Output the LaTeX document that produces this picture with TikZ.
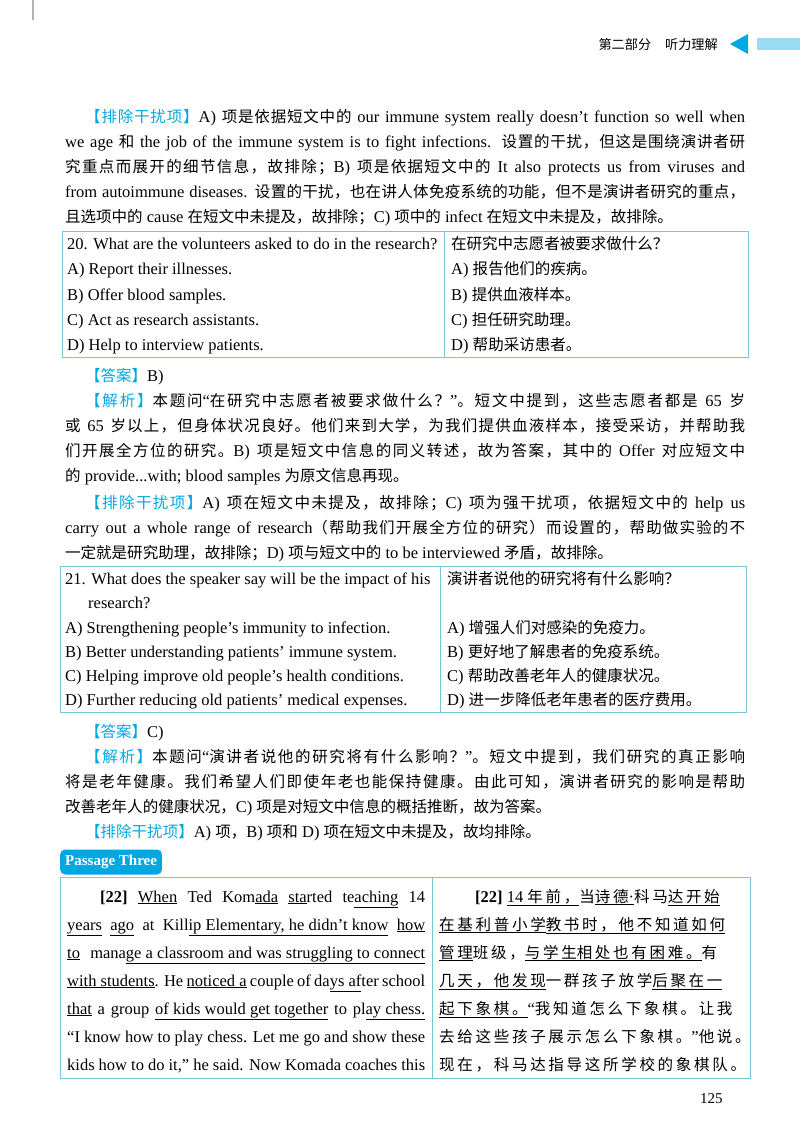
\documentclass[tikz,border=0pt]{standalone}
\usepackage{fontspec}
\setmainfont{Liberation Serif}
\newfontfamily\cjk{Noto Sans CJK SC}[Scale=0.94]
\newfontfamily\latin{Liberation Serif}
\usetikzlibrary{positioning}
% automatic switch to the CJK font
\XeTeXinterchartokenstate=1
\newXeTeXintercharclass\cjkclass
\newcount\cc
\cc="3000 \loop\XeTeXcharclass\cc=\cjkclass \advance\cc by 1 \ifnum\cc<"303F\repeat
\cc="4E00 \loop\XeTeXcharclass\cc=\cjkclass \advance\cc by 1 \ifnum\cc<"9FFF\repeat
\cc="FF00 \loop\XeTeXcharclass\cc=\cjkclass \advance\cc by 1 \ifnum\cc<"FFEF\repeat
\newcommand{\cjksep}{\hskip 0pt plus 1pt}
\XeTeXinterchartoks 0 \cjkclass = {\cjk}
\XeTeXinterchartoks 4095 \cjkclass = {\cjk}
\XeTeXinterchartoks \cjkclass 0 = {\latin}
\XeTeXinterchartoks \cjkclass 4095 = {\latin}
\XeTeXinterchartoks \cjkclass \cjkclass = {\cjksep}
\definecolor{cyanhd}{RGB}{0,168,226}
\definecolor{tabline}{RGB}{120,200,215}
\newcommand{\tag}[1]{{\color{cyanhd}【#1】}}
\newcommand{\jl}[2]{\makebox[#1pt][s]{#2}}
\tikzset{
  line/.style={anchor=base west, inner sep=0pt, font=\fontsize{16.5}{18}\selectfont},
  cell/.style={line},
  wide/.style={line, font=\fontsize{16.5}{18}\selectfont\renewcommand{\cjksep}{\kern2.7pt}},
  grid/.style={draw=tabline, line width=1pt}
}
\begin{document}
\begin{tikzpicture}[x=1pt,y=-1pt]
\useasboundingbox (0,0) rectangle (800,1131);
\fill[white] (0,0) rectangle (800,1131);
\draw[gray!60, line width=2pt] (33,0) -- (33,20);

% header
\node (head) [anchor=base east, inner sep=0pt, font=\fontsize{14}{15}\selectfont] at (718,50) {第二部分\hspace{1em}听力理解};
\fill[cyanhd] (730,44) -- (748,34) -- (748,54) -- cycle;
\fill[cyanhd!40] (757,38) rectangle (800,50);

% paragraph 1
\node (p1a) [line] at (85,123) {\jl{660}{\tag{排除干扰项}A) 项是依据短文中的 our immune system really doesn’t function so well when}};
\node (p1b) [line] at (65,148) {\jl{680}{we age 和 the job of the immune system is to fight infections. 设置的干扰，但这是围绕演讲者研}};
\node (p1c) [line] at (65,173) {\jl{680}{究重点而展开的细节信息，故排除；B) 项是依据短文中的 It also protects us from viruses and}};
\node (p1d) [line] at (65,198) {\jl{680}{from autoimmune diseases. 设置的干扰，也在讲人体免疫系统的功能，但不是演讲者研究的重点，}};
\node (p1e) [line] at (65,223) {且选项中的 cause 在短文中未提及，故排除；C) 项中的 infect 在短文中未提及，故排除。};

% table 20
\draw[grid] (62,232) rectangle (748,357);
\draw[grid] (444,232) -- (444,357);
\node (q20) [cell] at (67,250) {20. What are the volunteers asked to do in the research?};
\node (q20a) [cell] at (67,275) {A) Report their illnesses.};
\node (q20b) [cell] at (67,300) {B) Offer blood samples.};
\node (q20c) [cell] at (67,325) {C) Act as research assistants.};
\node (q20d) [cell] at (67,350) {D) Help to interview patients.};
\node (z20) [cell] at (451,250) {在研究中志愿者被要求做什么？};
\node (z20a) [cell] at (451,275) {A) 报告他们的疾病。};
\node (z20b) [cell] at (451,300) {B) 提供血液样本。};
\node (z20c) [cell] at (451,325) {C) 担任研究助理。};
\node (z20d) [cell] at (451,350) {D) 帮助采访患者。};

% answer 20
\node (a20) [line] at (85,381) {\tag{答案}B)};
\node (j20a) [line] at (85,406) {\jl{660}{\tag{解析}本题问“在研究中志愿者被要求做什么？”。短文中提到，这些志愿者都是 65 岁}};
\node (j20b) [line] at (65,431) {\jl{680}{或 65 岁以上，但身体状况良好。他们来到大学，为我们提供血液样本，接受采访，并帮助我}};
\node (j20c) [line] at (65,456) {\jl{680}{们开展全方位的研究。B) 项是短文中信息的同义转述，故为答案，其中的 Offer 对应短文中}};
\node (j20d) [line] at (65,481) {的 provide...with; blood samples 为原文信息再现。};
\node (e20a) [line] at (85,508) {\jl{660}{\tag{排除干扰项}A) 项在短文中未提及，故排除；C) 项为强干扰项，依据短文中的 help us}};
\node (e20b) [line] at (65,533) {\jl{680}{carry out a whole range of research（帮助我们开展全方位的研究）而设置的，帮助做实验的不}};
\node (e20c) [line] at (65,558) {一定就是研究助理，故排除；D) 项与短文中的 to be interviewed 矛盾，故排除。};

% table 21
\draw[grid] (60,566) rectangle (746,712);
\draw[grid] (440,566) -- (440,712);
\node (q21) [cell] at (65,584) {21. What does the speaker say will be the impact of his};
\node (q21r) [cell] at (88,608) {research?};
\node (q21a) [cell] at (65,633) {A) Strengthening people’s immunity to infection.};
\node (q21b) [cell] at (65,657) {B) Better understanding patients’ immune system.};
\node (q21c) [cell] at (65,681) {C) Helping improve old people’s health conditions.};
\node (q21d) [cell] at (65,705) {D) Further reducing old patients’ medical expenses.};
\node (z21) [cell] at (447,584) {演讲者说他的研究将有什么影响？};
\node (z21a) [cell] at (447,633) {A) 增强人们对感染的免疫力。};
\node (z21b) [cell] at (447,657) {B) 更好地了解患者的免疫系统。};
\node (z21c) [cell] at (447,681) {C) 帮助改善老年人的健康状况。};
\node (z21d) [cell] at (447,705) {D) 进一步降低老年患者的医疗费用。};

% answer 21
\node (a21) [line] at (85,737) {\tag{答案}C)};
\node (j21a) [line] at (85,762) {\jl{660}{\tag{解析}本题问“演讲者说他的研究将有什么影响？”。短文中提到，我们研究的真正影响}};
\node (j21b) [line] at (65,787) {\jl{680}{将是老年健康。我们希望人们即使年老也能保持健康。由此可知，演讲者研究的影响是帮助}};
\node (j21c) [line] at (65,812) {改善老年人的健康状况，C) 项是对短文中信息的概括推断，故为答案。};
\node (e21) [line] at (85,837) {\tag{排除干扰项}A) 项，B) 项和 D) 项在短文中未提及，故均排除。};

% passage three
\node (pass) [fill=cyanhd, rounded corners=5pt, text=white, font=\fontsize{15}{17}\selectfont\bfseries, minimum height=25pt, inner xsep=5pt, anchor=west] at (60,862) {Passage Three};
\draw[grid] (60,877) rectangle (750,1078);
\draw[grid] (432,877) -- (432,1078);
\node (en1) [cell] at (100,902) {\jl{325}{\textbf{[22]} \underline{When} Ted Kom\underline{ada} \underline{sta}rted te\underline{aching} 14}};
\node (en2) [cell] at (67,930) {\jl{358}{\underline{years} \underline{ago} at Kill\underline{ip Elementary, he didn’t know} \underline{how}}};
\node (en3) [cell] at (67,958) {\jl{358}{\underline{to} mana\underline{ge a classroom and was struggling to connect}}};
\node (en4) [cell] at (67,986) {\jl{358}{\underline{with students}. He \underline{noticed a} couple of da\underline{ys af}ter school}};
\node (en5) [cell] at (67,1014) {\jl{358}{\underline{that} a group \underline{of kids would get together} to pl\underline{ay chess.}}};
\node (en6) [cell] at (67,1042) {\jl{358}{“I know how to play chess. Let me go and show these}};
\node (en7) [cell] at (67,1070) {\jl{358}{kids how to do it,” he said. Now Komada coaches this}};
\node (cn1) [wide] at (475,902) {\textbf{[22]} \underline{14 年前，}当\underline{诗德·}科马\underline{达开始}};
\node (cn2) [wide] at (439,930) {\underline{在基利普小学}\underline{教书时，他不知道如何}};
\node (cn3) [wide] at (439,958) {\underline{管理}班级，\underline{与学生}\underline{相处也有困难。}有};
\node (cn4) [wide] at (439,986) {\underline{几天，他发现}一群孩子放学\underline{后聚在一}};
\node (cn5) [wide] at (439,1014) {\underline{起下象棋。}“我知道怎么下象棋。让我};
\node (cn6) [wide] at (439,1042) {去给这些孩子展示怎么下象棋。”他说。};
\node (cn7) [wide] at (439,1070) {现在，科马达指导这所学校的象棋队。};

\node (page) [anchor=base west, inner sep=0pt, font=\fontsize{15}{16}\selectfont] at (700,1103) {125};
\end{tikzpicture}
\end{document}
